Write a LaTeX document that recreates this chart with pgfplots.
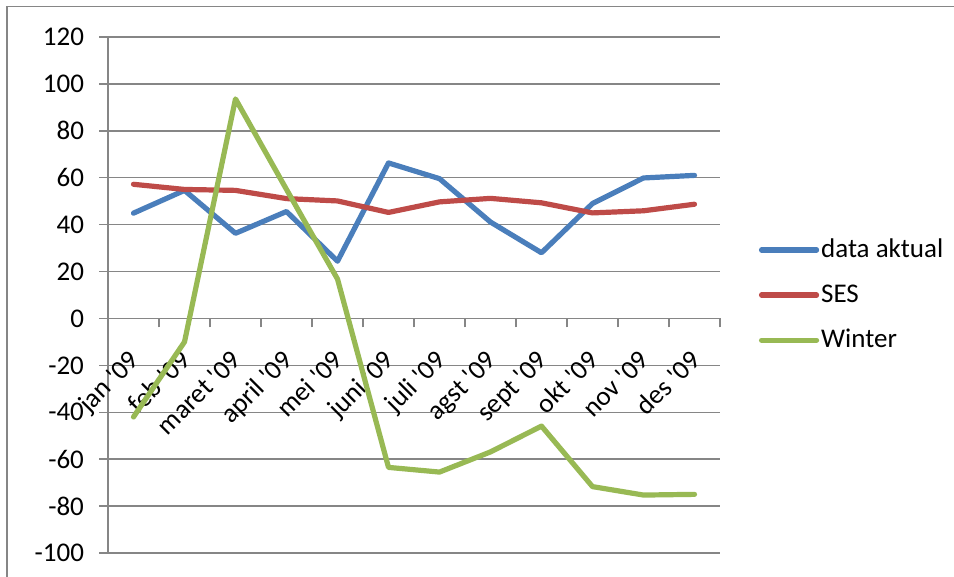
\documentclass[border=0pt]{standalone}
\usepackage{pgfplots}
\pgfplotsset{compat=1.18}
\usepackage{fontspec}
\setmainfont{Carlito}[Ligatures=TeXOff]
\definecolor{sBlue}{HTML}{4A7EBB}
\definecolor{sRed}{HTML}{BE4B48}
\definecolor{sGreen}{HTML}{98B954}
\definecolor{gridgray}{HTML}{868686}
\begin{document}
\begin{tikzpicture}
\begin{axis}[
  at={(54pt,12pt)}, anchor=south west,
  scale only axis, width=306pt, height=258pt,
  xmin=0.5, xmax=12.5, ymin=-100, ymax=120,
  axis x line=middle, axis y line=left,
  x axis line style={-, draw=gridgray, line width=0.7pt},
  y axis line style={-, draw=gridgray, line width=0.7pt},
  xtick={1,...,12},
  xticklabels={jan '09, feb '09, maret '09, april '09, mei  '09, juni '09, juli '09, agst '09, sept '09, okt '09, nov '09, des '09},
  major x tick style={draw=none},
  minor xtick={0.5,1.5,...,12.5},
  minor x tick style={draw=gridgray, line width=0.7pt},
  ytick={-100,-80,...,120},
  y tick style={draw=gridgray, line width=0.7pt},
  tick align=outside,
  major tick length=4.5pt, minor tick length=4.5pt,
  ymajorgrids, grid style={draw=gridgray, line width=0.7pt},
  /pgf/number format/assume math mode=true,
  tick label style={font=\fontsize{13.5}{16}\selectfont, text=black},
  yticklabel style={xshift=-4pt},
  xticklabel style={yshift=-9pt, xshift=-3pt, rotate=45, anchor=north east, inner sep=1pt},
  legend style={draw=none, fill=none, at={(1.063,0.5)}, anchor=west,
    font=\fontsize{13.5}{16}\selectfont, row sep=10pt, inner sep=0pt,
    nodes={inner sep=1pt}},
  legend cell align=left,
  legend image code/.code={\draw[#1, line cap=round] (0pt,0pt) -- (27.5pt,0pt);},
  every axis plot/.append style={line width=2.6pt, line join=round, line cap=round},
  clip=false,
]
\addplot[sBlue] coordinates {(1,44.9) (2,54.6) (3,36.3) (4,45.6) (5,24.4) (6,66.3) (7,59.6) (8,41.1) (9,28.0) (10,49.0) (11,59.9) (12,61.0)};
\addlegendentry{data aktual}
\addplot[sRed] coordinates {(1,57.2) (2,55.0) (3,54.6) (4,51.1) (5,50.1) (6,45.2) (7,49.7) (8,51.2) (9,49.3) (10,45.0) (11,45.9) (12,48.7)};
\addlegendentry{SES}
\addplot[sGreen] coordinates {(1,-42.0) (2,-10.0) (3,93.6) (4,55.0) (5,16.8) (6,-63.5) (7,-65.5) (8,-56.9) (9,-45.9) (10,-71.7) (11,-75.3) (12,-75.0)};
\addlegendentry{Winter}
\end{axis}
\draw[gridgray, line width=0.7pt] (3.4pt,-5pt) -- (3.4pt,285.1pt) -- (485pt,285.1pt);
\pgfresetboundingbox
\path[use as bounding box] (0,0) rectangle (477pt,288.5pt);
\end{tikzpicture}
\end{document}
